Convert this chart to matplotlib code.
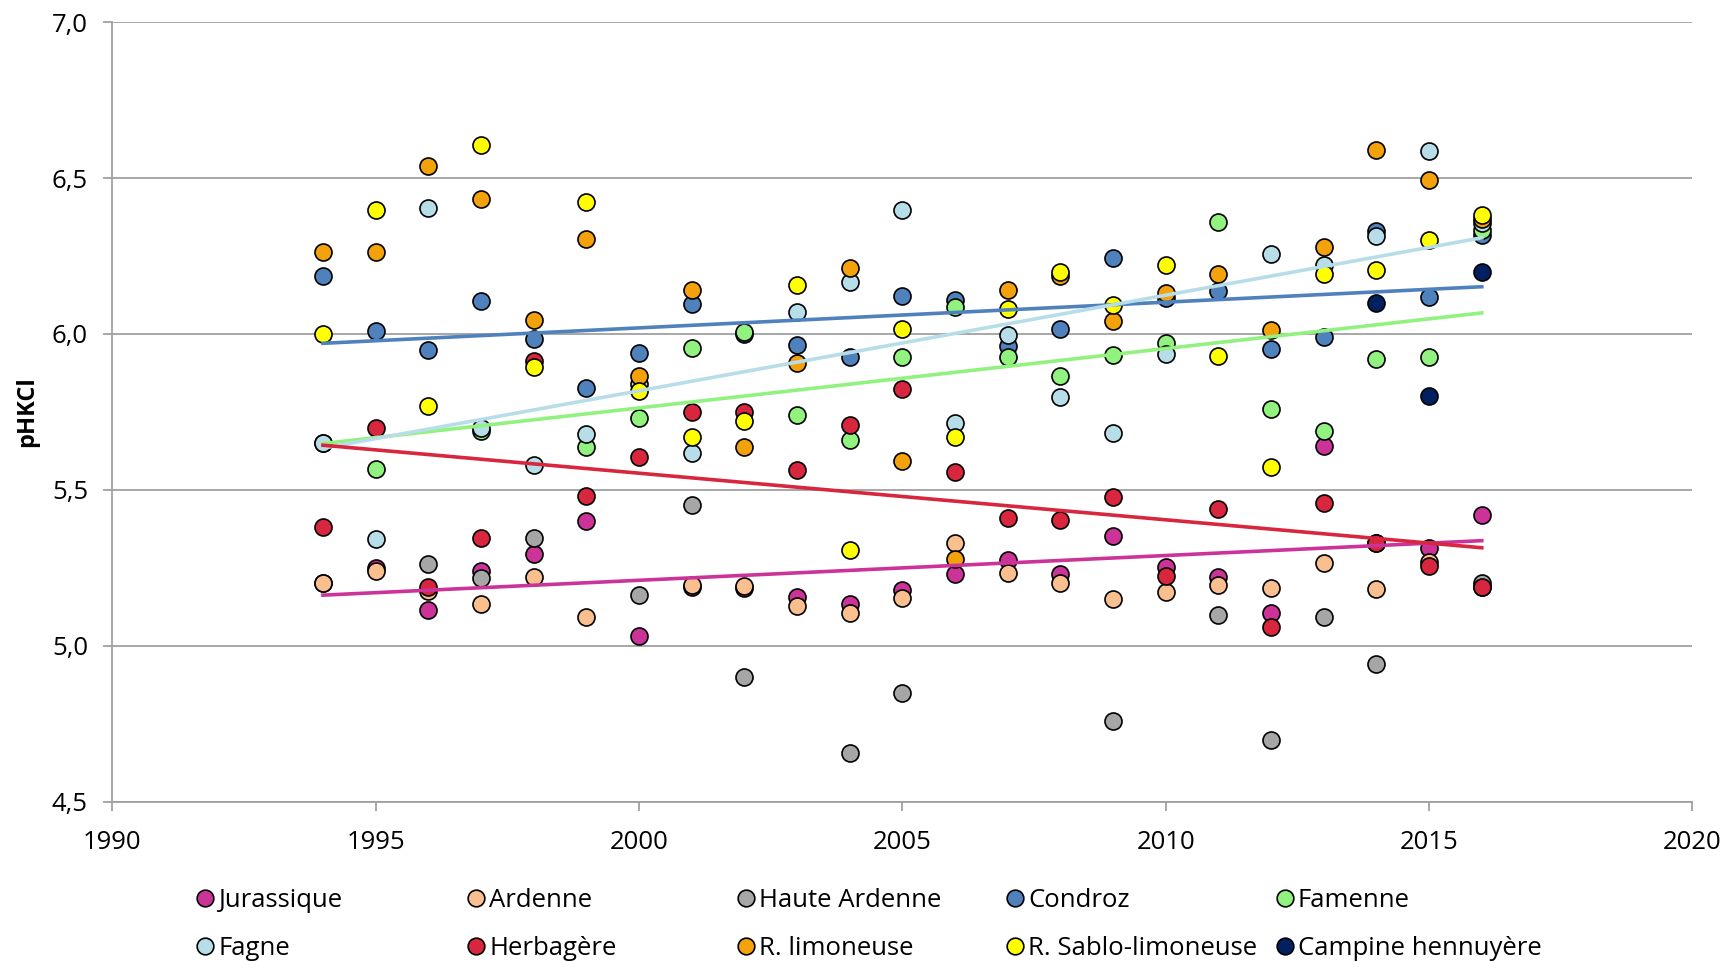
import numpy as np
import matplotlib
matplotlib.use("Agg")
import matplotlib.pyplot as plt
from matplotlib.lines import Line2D
from matplotlib.ticker import MultipleLocator, FuncFormatter

plt.rcParams["font.family"] = ["Open Sans", "DejaVu Sans"]

nan = np.nan
annees = list(range(1994, 2017))

# pH KCl moyen par région agricole et par année (1994 -> 2016)
jurassique = [5.20, 5.25, 5.115, 5.24, 5.295, 5.40, 5.03, 5.19, 5.185, 5.155, 5.135, 5.18,
              5.23, 5.275, 5.23, 5.353, 5.252, 5.222, 5.105, 5.641, 5.33, 5.313, 5.421]
ardenne = [5.20, 5.24, 5.175, 5.135, 5.222, 5.093, nan, 5.196, 5.192, 5.129, 5.105, 5.153,
           5.331, 5.235, 5.201, 5.151, 5.174, 5.196, 5.187, 5.267, 5.182, 5.27, 5.19]
haute_ardenne = [nan, nan, 5.262, 5.217, 5.345, nan, 5.162, 5.453, 4.900, nan, 4.656, 4.848,
                 nan, nan, nan, 4.759, nan, 5.099, 4.699, 5.094, 4.941, nan, 5.20]
condroz = [6.186, 6.011, 5.948, 6.106, 5.985, 5.826, 5.938, 6.095, 6.00, 5.965, 5.927, 6.123,
           6.109, 5.961, 6.015, 6.245, 6.115, 6.137, 5.951, 5.989, 6.329, 6.118, 6.318]
famenne = [5.649, 5.566, nan, 5.69, nan, 5.638, 5.731, 5.954, 6.005, 5.740, 5.660, 5.925,
           6.085, 5.927, 5.865, 5.933, 5.972, 6.358, 5.758, 5.688, 5.919, 5.927, 6.334]
fagne = [5.649, 5.344, 6.404, 5.697, 5.579, 5.680, 5.84, 5.618, nan, 6.070, 6.166, 6.399,
         5.713, 5.997, 5.797, 5.681, 5.935, nan, 6.255, 6.221, 6.313, 6.587, 6.355]
herbagere = [5.381, 5.698, 5.19, 5.347, 5.914, 5.479, 5.607, 5.751, 5.751, 5.563, 5.707, 5.824,
             5.558, 5.410, 5.404, 5.476, 5.224, 5.439, 5.059, 5.457, 5.33, 5.255, 5.19]
r_limoneuse = [6.262, 6.264, 6.537, 6.433, 6.045, 6.304, 5.865, 6.141, 5.638, 5.908, 6.211, 5.593,
               5.279, 6.141, 6.186, 6.042, 6.131, 6.193, 6.013, 6.278, 6.591, 6.494, 6.37]
r_sablo = [6.00, 6.397, 5.770, 6.607, 5.895, 6.423, 5.818, 5.669, 5.721, 6.157, 5.306, 6.015,
           5.669, 6.079, 6.200, 6.093, 6.222, 5.930, 5.572, 6.193, 6.205, 6.302, 6.381]
campine = [nan] * 20 + [6.100, 5.800, 6.198]

series = [
    ("Jurassique", jurassique, "#CC3399", True),
    ("Ardenne", ardenne, "#F9BF8F", False),
    ("Haute Ardenne", haute_ardenne, "#A6A6A6", False),
    ("Condroz", condroz, "#4F81BD", True),
    ("Famenne", famenne, "#92F27F", True),
    ("Fagne", fagne, "#B7DEE8", True),
    ("Herbagère", herbagere, "#D7263D", True),
    ("R. limoneuse", r_limoneuse, "#F4A20C", False),
    ("R. Sablo-limoneuse", r_sablo, "#FFFF00", False),
    ("Campine hennuyère", campine, "#002060", False),
]

GRIS = "#A0A0A0"

fig = plt.figure(figsize=(17.27, 9.61), dpi=100)
ax = fig.add_axes([0.065, 0.1657, 0.915, 0.8113])

x = np.array(annees, dtype=float)
handles = []
for i, (nom, vals, couleur, tendance) in enumerate(series):
    y = np.array(vals, dtype=float)
    ok = ~np.isnan(y)
    ax.scatter(x[ok], y[ok], s=150, color=couleur, edgecolor="black",
               linewidth=1.2, zorder=3 + i * 0.01)
    if tendance:
        # droite de tendance linéaire sur la période couverte par la série
        pente, orig = np.polyfit(x[ok], y[ok], 1)
        xs = np.array([x[ok].min(), x[ok].max()])
        ax.plot(xs, pente * xs + orig, color=couleur, linewidth=2.6, zorder=5)
    handles.append(Line2D([], [], linestyle="none", marker="o", markersize=12,
                          markerfacecolor=couleur, markeredgecolor="black",
                          markeredgewidth=1.2, label=nom))

ax.set_xlim(1990, 2020)
ax.set_ylim(4.5, 7.0)
ax.xaxis.set_major_locator(MultipleLocator(5))
ax.yaxis.set_major_locator(MultipleLocator(0.5))
ax.yaxis.set_major_formatter(FuncFormatter(lambda v, p: f"{v:.1f}".replace(".", ",")))
ax.grid(axis="y", color=GRIS, linewidth=1.3, zorder=0)
ax.set_axisbelow(True)
for cote in ["top", "right"]:
    ax.spines[cote].set_visible(False)
for cote in ["left", "bottom"]:
    ax.spines[cote].set_color(GRIS)
    ax.spines[cote].set_linewidth(1.3)
ax.tick_params(axis="both", direction="out", length=6.5, width=1.3, color=GRIS,
               labelsize=18.5, labelcolor="black")
ax.tick_params(axis="y", pad=11)
ax.tick_params(axis="x", pad=14)
ax.set_ylabel("pHKCl", fontsize=17, fontweight="bold", labelpad=9)

# Légende en deux lignes, cinq colonnes de largeur égale
col_x = [0.104, 0.261, 0.417, 0.573, 0.729]
for c in range(5):
    fig.legend(handles=[handles[c], handles[c + 5]], loc="upper left",
               bbox_to_anchor=(col_x[c], 0.0897), frameon=False,
               fontsize=18.5, handletextpad=0.0, labelspacing=0.9,
               borderpad=0, handlelength=1.0)

fig.savefig("out.png", dpi=100)
